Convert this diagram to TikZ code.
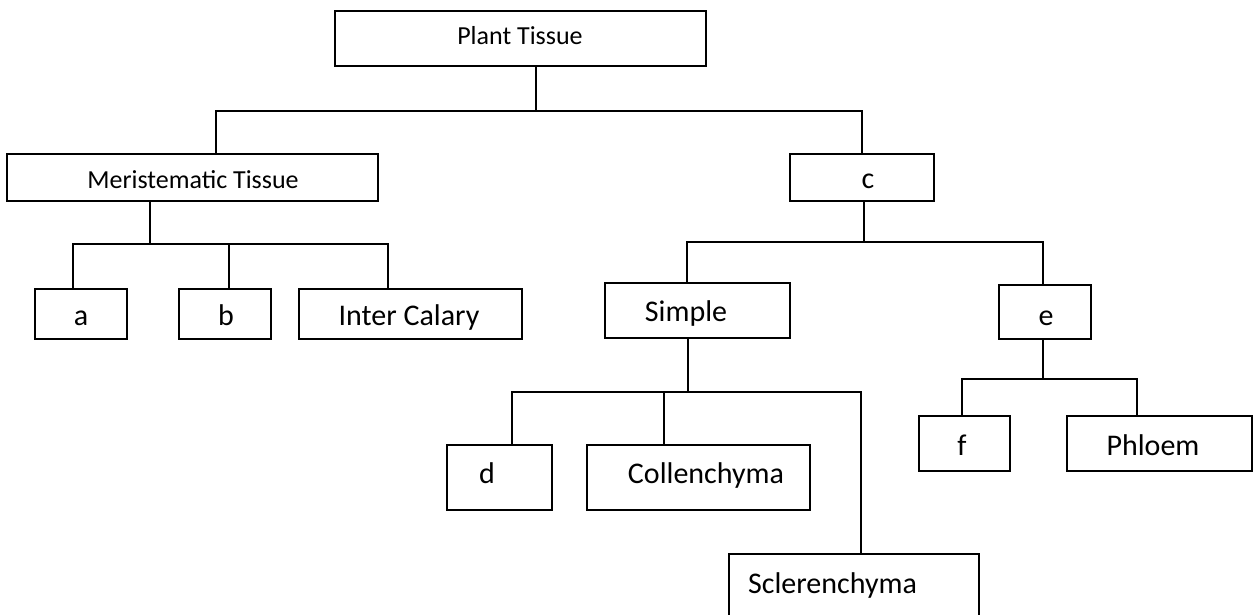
\documentclass[tikz,border=0pt]{standalone}
\usepackage{fontspec}
\setmainfont{Carlito}
\tikzset{
  box/.style={draw=black, line width=1.3pt, inner sep=0pt, rectangle},
  lbl/.style={inner sep=0pt, anchor=base, font=\fontsize{30}{32}\selectfont},
  lblsmall/.style={inner sep=0pt, anchor=base, font=\fontsize{26}{28}\selectfont},
  conn/.style={draw=black, line width=1.3pt}
}
\begin{document}
\begin{tikzpicture}[x=1pt, y=-1pt]
\clip (0,0) rectangle (1259,614);
\fill[white] (0,0) rectangle (1259,614);
% boxes
\node[box, minimum width=371pt, minimum height=55pt] (pt) at (520.5,38.5) {};
\node[box, minimum width=371pt, minimum height=47pt] (mt) at (192.5,177.5) {};
\node[box, minimum width=144pt, minimum height=47pt] (c) at (862,177.5) {};
\node[box, minimum width=92pt, minimum height=50pt] (a) at (81,314) {};
\node[box, minimum width=92pt, minimum height=50pt] (b) at (225,314) {};
\node[box, minimum width=223pt, minimum height=50pt] (ic) at (410.5,314) {};
\node[box, minimum width=185pt, minimum height=55pt] (simple) at (697.5,310.5) {};
\node[box, minimum width=92pt, minimum height=54pt] (e) at (1045,312) {};
\node[box, minimum width=105pt, minimum height=65pt] (d) at (499.5,477.5) {};
\node[box, minimum width=223pt, minimum height=65pt] (col) at (698.5,477.5) {};
\node[box, minimum width=250pt, minimum height=76pt] (scl) at (854,592) {};
\node[box, minimum width=91pt, minimum height=55pt] (f) at (964.5,443.5) {};
\node[box, minimum width=185pt, minimum height=55pt] (ph) at (1159.5,443.5) {};
% texts
\node[lblsmall] (pt-t) at (520,44) {Plant Tissue};
\node[lblsmall] (mt-t) at (193,188) {Meristematic Tissue};
\node[lbl] (c-t) at (868,188) {c};
\node[lbl] (a-t) at (81,325) {a};
\node[lbl] (b-t) at (226,325) {b};
\node[lbl] (ic-t) at (409,325) {Inter Calary};
\node[lbl] (simple-t) at (686,321) {Simple};
\node[lbl] (e-t) at (1046,325) {e};
\node[lbl] (d-t) at (487,483) {d};
\node[lbl] (col-t) at (706,483) {Collenchyma};
\node[lbl] (scl-t) at (832.5,593) {Sclerenchyma};
\node[lbl] (f-t) at (962,455) {f};
\node[lbl] (ph-t) at (1153,455) {Phloem};
% junctions
\coordinate (j0) at (536,111);
\coordinate (j0l) at (216,111);
\coordinate (j0r) at (862,111);
\coordinate (j1) at (150,244);
\coordinate (j1a) at (73,244);
\coordinate (j1b) at (229,244);
\coordinate (j1c) at (388,244);
\coordinate (j2) at (864,242);
\coordinate (j2l) at (687,242);
\coordinate (j2r) at (1043,242);
\coordinate (j3) at (688,392);
\coordinate (j3l) at (512,392);
\coordinate (j3m) at (664,392);
\coordinate (j3r) at (861,392);
\coordinate (j4) at (1043,379);
\coordinate (j4l) at (962,379);
\coordinate (j4r) at (1137,379);
% connectors
\draw[conn] (pt.south -| j0) -- (j0);
\draw[conn] (j0l |- mt.north) -- (j0l) -- (j0r) -- (j0r |- c.north);
\draw[conn] (mt.south -| j1) -- (j1);
\draw[conn] (j1a |- a.north) -- (j1a) -- (j1c) -- (j1c |- ic.north);
\draw[conn] (j1b) -- (j1b |- b.north);
\draw[conn] (c.south -| j2) -- (j2);
\draw[conn] (j2l |- simple.north) -- (j2l) -- (j2r) -- (j2r |- e.north);
\draw[conn] (simple.south -| j3) -- (j3);
\draw[conn] (j3l |- d.north) -- (j3l) -- (j3r) -- (j3r |- scl.north);
\draw[conn] (j3m) -- (j3m |- col.north);
\draw[conn] (e.south -| j4) -- (j4);
\draw[conn] (j4l |- f.north) -- (j4l) -- (j4r) -- (j4r |- ph.north);
\end{tikzpicture}
\end{document}
